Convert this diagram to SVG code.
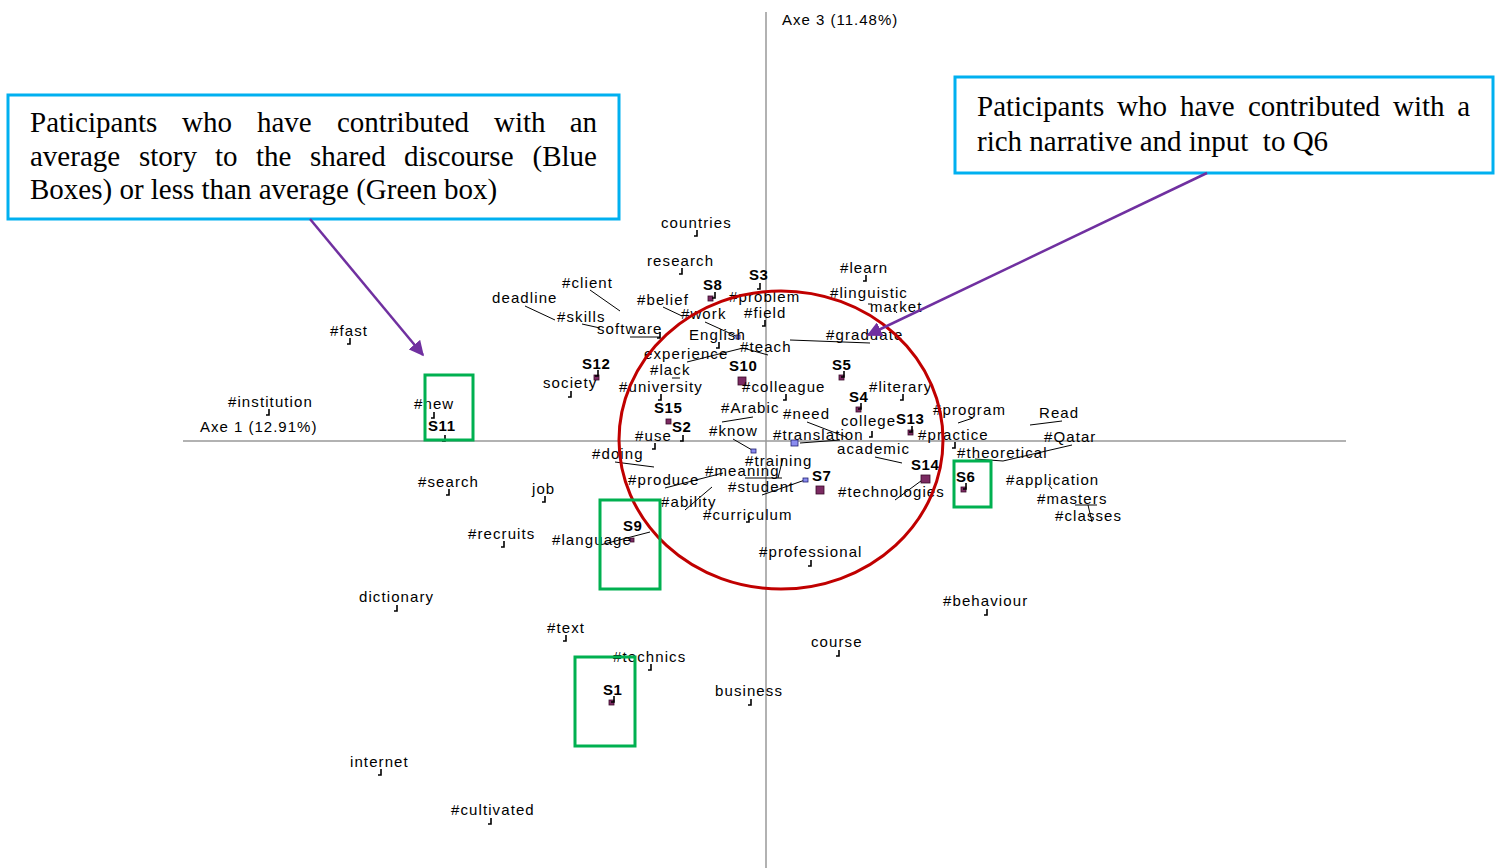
<svg xmlns="http://www.w3.org/2000/svg" xmlns:xlink="http://www.w3.org/1999/xlink" width="1504" height="868" viewBox="0 0 1504 868">
<style>
.lb{font-family:"Liberation Sans",Arial,sans-serif;font-size:15px;letter-spacing:1.1px;fill:#000}
.sl{font-family:"Liberation Sans",Arial,sans-serif;font-size:15px;font-weight:bold;letter-spacing:0.6px;fill:#000}
.ax{font-family:"Liberation Sans",Arial,sans-serif;font-size:15px;letter-spacing:1px;fill:#000}
.nt{font-family:"Liberation Serif","Times New Roman",serif;font-size:29px;fill:#000}
.ld{stroke:#000;stroke-width:1;fill:none}
.axis{stroke:#999;stroke-width:1.5;fill:none}
.sq{fill:#7b2a62;stroke:#3a0a2a;stroke-width:0.8}
.bsq{fill:#8a8cf0;stroke:#202070;stroke-width:0.8}
.grn{fill:none;stroke:#00b050;stroke-width:3}
.blu{fill:#fff;stroke:#00b0f0;stroke-width:3}
.arr{stroke:#7030a0;stroke-width:2.5;fill:none}
</style>
<defs>
<path id="tk" d="M0,-6 V0 H-3" stroke="#000" stroke-width="1.6" fill="none"/>
<marker id="ah" viewBox="0 0 10 10" refX="9" refY="5" markerWidth="6" markerHeight="6" orient="auto" markerUnits="strokeWidth">
<path d="M0,0 L10,5 L0,10 z" fill="#7030a0"/>
</marker>
</defs>
<rect width="1504" height="868" fill="#fff"/>

<g id="axes">
<line class="axis" x1="183" y1="441" x2="1346" y2="441"/>
<line class="axis" x1="766" y1="12" x2="766" y2="868"/>
<text class="ax" x="782" y="25">Axe 3 (11.48%)</text>
<text class="ax" x="200" y="432">Axe 1 (12.91%)</text>
</g>

<g id="connectors">
<line class="ld" x1="590" y1="290" x2="620" y2="311"/>
<line class="ld" x1="525" y1="306" x2="555" y2="320"/>
<line class="ld" x1="582" y1="324" x2="600" y2="328"/>
<line class="ld" x1="630" y1="337" x2="660" y2="337"/>
<line class="ld" x1="663" y1="307" x2="682" y2="316"/>
<line class="ld" x1="705" y1="322" x2="738" y2="337"/>
<line class="ld" x1="743" y1="348" x2="768" y2="355"/>
<line class="ld" x1="687" y1="362" x2="743" y2="348"/>
<line class="ld" x1="790" y1="340" x2="870" y2="343"/>
<line class="ld" x1="807" y1="422" x2="846" y2="437"/>
<line class="ld" x1="958" y1="423" x2="973" y2="418"/>
<line class="ld" x1="1030" y1="425" x2="1062" y2="421"/>
<line class="ld" x1="1072" y1="445" x2="1003" y2="461"/>
<line class="ld" x1="875" y1="457" x2="902" y2="463"/>
<line class="ld" x1="800" y1="443" x2="840" y2="440"/>
<line class="ld" x1="722" y1="422" x2="753" y2="417"/>
<line class="ld" x1="733" y1="439" x2="752" y2="450"/>
<line class="ld" x1="615" y1="462" x2="654" y2="467"/>
<line class="ld" x1="783" y1="458" x2="778" y2="478"/>
<line class="ld" x1="745" y1="478" x2="782" y2="478"/>
<line class="ld" x1="665" y1="488" x2="723" y2="473"/>
<line class="ld" x1="762" y1="495" x2="805" y2="480"/>
<line class="ld" x1="685" y1="510" x2="712" y2="487"/>
<line class="ld" x1="895" y1="500" x2="925" y2="478"/>
<line class="ld" x1="600" y1="545" x2="650" y2="532"/>
<line class="ld" x1="1075" y1="505" x2="1097" y2="505"/>
<line class="ld" x1="1088" y1="505" x2="1092" y2="522"/>
<line class="ld" x1="975" y1="459" x2="1003" y2="461"/>
</g>

<g id="n-countries"><text class="lb" x="661" y="228">countries</text><use xlink:href="#tk" x="697" y="236"/></g>
<g id="n-research"><text class="lb" x="647" y="266">research</text><use xlink:href="#tk" x="682" y="274"/></g>
<g id="n-client"><text class="lb" x="562" y="288">#client</text></g>
<g id="n-deadline"><text class="lb" x="492" y="303">deadline</text></g>
<g id="n-skills"><text class="lb" x="557" y="322">#skills</text></g>
<g id="n-software"><text class="lb" x="597" y="334">software</text><use xlink:href="#tk" x="660" y="338"/></g>
<g id="n-S8"><text class="sl" x="703" y="290">S8</text><rect class="sq" x="708" y="296" width="5" height="5"/><use xlink:href="#tk" x="715" y="298"/></g>
<g id="n-S3"><text class="sl" x="749" y="280">S3</text><use xlink:href="#tk" x="760" y="289"/></g>
<g id="n-belief"><text class="lb" x="637" y="305">#belief</text></g>
<g id="n-problem"><text class="lb" x="729" y="302">#problem</text></g>
<g id="n-work"><text class="lb" x="681" y="319">#work</text><rect class="bsq" x="736" y="335" width="4" height="4"/></g>
<g id="n-field"><text class="lb" x="744" y="318">#field</text><use xlink:href="#tk" x="765" y="326"/></g>
<g id="n-english"><text class="lb" x="689" y="340">English</text><use xlink:href="#tk" x="719" y="348"/></g>
<g id="n-teach"><text class="lb" x="740" y="352">#teach</text></g>
<g id="n-experience"><text class="lb" x="644" y="359">experience</text></g>
<g id="n-lack"><text class="lb" x="650" y="375">#lack</text><line class="ld" x1="672" y1="378" x2="680" y2="378"/></g>
<g id="n-S12"><text class="sl" x="582" y="369">S12</text><rect class="sq" x="594" y="375" width="5" height="5"/><use xlink:href="#tk" x="598" y="376"/></g>
<g id="n-society"><text class="lb" x="543" y="388">society</text><use xlink:href="#tk" x="571" y="397"/></g>
<g id="n-university"><text class="lb" x="619" y="392">#university</text><use xlink:href="#tk" x="661" y="400"/></g>
<g id="n-S10"><text class="sl" x="729" y="371">S10</text><rect class="sq" x="738" y="377" width="8" height="8"/></g>
<g id="n-colleague"><text class="lb" x="742" y="392">#colleague</text><use xlink:href="#tk" x="786" y="400"/></g>
<g id="n-learn"><text class="lb" x="840" y="273">#learn</text><use xlink:href="#tk" x="866" y="281"/></g>
<g id="n-linguistic"><text class="lb" x="830" y="298">#linguistic</text><line class="ld" x1="868" y1="304" x2="872" y2="304"/></g>
<g id="n-market"><text class="lb" x="870" y="312">market</text><line class="ld" x1="893" y1="308" x2="897" y2="313"/></g>
<g id="n-graduate"><text class="lb" x="826" y="340">#graduate</text></g>
<g id="n-S5"><text class="sl" x="832" y="370">S5</text><rect class="sq" x="839" y="375" width="5" height="5"/><use xlink:href="#tk" x="844" y="377"/></g>
<g id="n-literary"><text class="lb" x="869" y="392">#literary</text><use xlink:href="#tk" x="903" y="400"/></g>
<g id="n-S4"><text class="sl" x="849" y="402">S4</text><rect class="sq" x="856" y="407" width="5" height="5"/><use xlink:href="#tk" x="861" y="409"/></g>
<g id="n-need"><text class="lb" x="783" y="419">#need</text></g>
<g id="n-college"><text class="lb" x="841" y="426">college</text><use xlink:href="#tk" x="872" y="437"/></g>
<g id="n-S13"><text class="sl" x="896" y="424">S13</text><rect class="sq" x="908" y="430" width="5" height="5"/><use xlink:href="#tk" x="912" y="432"/></g>
<g id="n-program"><text class="lb" x="933" y="415">#program</text></g>
<g id="n-read"><text class="lb" x="1039" y="418">Read</text></g>
<g id="n-qatar"><text class="lb" x="1044" y="442">#Qatar</text></g>
<g id="n-practice"><text class="lb" x="918" y="440">#practice</text><use xlink:href="#tk" x="955" y="448"/></g>
<g id="n-theoretical"><text class="lb" x="957" y="458">#theoretical</text></g>
<g id="n-academic"><text class="lb" x="837" y="454">academic</text></g>
<g id="n-translation"><text class="lb" x="773" y="440">#translation</text><rect class="bsq" x="791" y="440" width="7" height="6"/></g>
<g id="n-arabic"><text class="lb" x="721" y="413">#Arabic</text></g>
<g id="n-know"><text class="lb" x="709" y="436">#know</text><rect class="bsq" x="751" y="449" width="5" height="4"/></g>
<g id="n-S15"><text class="sl" x="654" y="413">S15</text><rect class="sq" x="666" y="419" width="5" height="5"/></g>
<g id="n-S2"><text class="sl" x="672" y="432">S2</text><use xlink:href="#tk" x="683" y="441"/></g>
<g id="n-use"><text class="lb" x="635" y="441">#use</text><use xlink:href="#tk" x="655" y="449"/></g>
<g id="n-doing"><text class="lb" x="592" y="459">#doing</text></g>
<g id="n-training"><text class="lb" x="745" y="466">#training</text></g>
<g id="n-meaning"><text class="lb" x="705" y="476">#meaning</text></g>
<g id="n-produce"><text class="lb" x="628" y="485">#produce</text></g>
<g id="n-S7"><text class="sl" x="812" y="481">S7</text><rect class="sq" x="816" y="486" width="8" height="8"/></g>
<g id="n-student"><text class="lb" x="728" y="492">#student</text><rect class="bsq" x="803" y="478" width="5" height="4"/></g>
<g id="n-ability"><text class="lb" x="661" y="507">#ability</text></g>
<g id="n-curriculum"><text class="lb" x="703" y="520">#curriculum</text><use xlink:href="#tk" x="749" y="522"/></g>
<g id="n-S14"><text class="sl" x="911" y="470">S14</text><rect class="sq" x="921" y="475" width="9" height="8"/></g>
<g id="n-technologies"><text class="lb" x="838" y="497">#technologies</text></g>
<g id="n-S6"><text class="sl" x="956" y="482">S6</text><rect class="sq" x="961" y="487" width="5" height="5"/><use xlink:href="#tk" x="966" y="489"/></g>
<g id="n-application"><text class="lb" x="1006" y="485">#application</text><line class="ld" x1="1048" y1="484" x2="1052" y2="489"/></g>
<g id="n-masters"><text class="lb" x="1037" y="504">#masters</text></g>
<g id="n-classes"><text class="lb" x="1055" y="521">#classes</text></g>
<g id="n-professional"><text class="lb" x="759" y="557">#professional</text><use xlink:href="#tk" x="811" y="566"/></g>
<g id="n-S9"><text class="sl" x="623" y="531">S9</text><rect class="sq" x="630" y="538" width="4" height="4"/></g>
<g id="n-language"><text class="lb" x="552" y="545">#language</text></g>
<g id="n-fast"><text class="lb" x="330" y="336">#fast</text><use xlink:href="#tk" x="350" y="344"/></g>
<g id="n-institution"><text class="lb" x="228" y="407">#institution</text><use xlink:href="#tk" x="269" y="415"/></g>
<g id="n-new"><text class="lb" x="414" y="409">#new</text><use xlink:href="#tk" x="434" y="418"/></g>
<g id="n-S11"><text class="sl" x="428" y="431">S11</text><use xlink:href="#tk" x="445" y="441"/></g>
<g id="n-search"><text class="lb" x="418" y="487">#search</text><use xlink:href="#tk" x="449" y="495"/></g>
<g id="n-job"><text class="lb" x="532" y="494">job</text><use xlink:href="#tk" x="545" y="502"/></g>
<g id="n-recruits"><text class="lb" x="468" y="539">#recruits</text><use xlink:href="#tk" x="504" y="547"/></g>
<g id="n-dictionary"><text class="lb" x="359" y="602">dictionary</text><use xlink:href="#tk" x="397" y="611"/></g>
<g id="n-text"><text class="lb" x="547" y="633">#text</text><use xlink:href="#tk" x="566" y="641"/></g>
<g id="n-technics"><text class="lb" x="613" y="662">#technics</text><use xlink:href="#tk" x="651" y="670"/></g>
<g id="n-S1"><text class="sl" x="603" y="695">S1</text><rect class="sq" x="609" y="700" width="5" height="5"/><use xlink:href="#tk" x="614" y="702"/></g>
<g id="n-business"><text class="lb" x="715" y="696">business</text><use xlink:href="#tk" x="751" y="705"/></g>
<g id="n-course"><text class="lb" x="811" y="647">course</text><use xlink:href="#tk" x="839" y="656"/></g>
<g id="n-behaviour"><text class="lb" x="943" y="606">#behaviour</text><use xlink:href="#tk" x="987" y="615"/></g>
<g id="n-internet"><text class="lb" x="350" y="767">internet</text><use xlink:href="#tk" x="381" y="775"/></g>
<g id="n-cultivated"><text class="lb" x="451" y="815">#cultivated</text><use xlink:href="#tk" x="491" y="824"/></g>

<g id="highlight-circle"><ellipse cx="781" cy="440" rx="162" ry="149" fill="none" stroke="#c00000" stroke-width="3"/></g>

<g id="green-boxes">
<rect class="grn" x="425" y="375" width="48" height="65"/>
<rect class="grn" x="600" y="500" width="60" height="89"/>
<rect class="grn" x="575" y="657" width="60" height="89"/>
<rect class="grn" x="954" y="461" width="37" height="46"/>
</g>

<g id="note-left">
<rect class="blu" x="8" y="95" width="611" height="124"/>
<text class="nt" y="132"><tspan x="30">Paticipants</tspan><tspan x="182">who</tspan><tspan x="257">have</tspan><tspan x="337">contributed</tspan><tspan x="494">with</tspan></text>
<text class="nt" x="597" y="132" text-anchor="end">an</text>
<text class="nt" y="166"><tspan x="30">average</tspan><tspan x="139">story</tspan><tspan x="215">to</tspan><tspan x="256">the</tspan><tspan x="310">shared</tspan><tspan x="404">discourse</tspan></text>
<text class="nt" x="597" y="166" text-anchor="end">(Blue</text>
<text class="nt" x="30" y="199">Boxes) or less than average (Green box)</text>
</g>
<g id="note-right">
<rect class="blu" x="955" y="77" width="538" height="96"/>
<text class="nt" y="116"><tspan x="977">Paticipants</tspan><tspan x="1117">who</tspan><tspan x="1180">have</tspan><tspan x="1248">contributed</tspan><tspan x="1393">with</tspan></text>
<text class="nt" x="1470" y="116" text-anchor="end">a</text>
<text class="nt" x="977" y="151" xml:space="preserve">rich narrative and input  to Q6</text>
</g>

<g id="arrows">
<line class="arr" x1="310" y1="219" x2="423" y2="355" marker-end="url(#ah)"/>
<line class="arr" x1="1207" y1="173" x2="868" y2="335" marker-end="url(#ah)"/>
</g>
</svg>
